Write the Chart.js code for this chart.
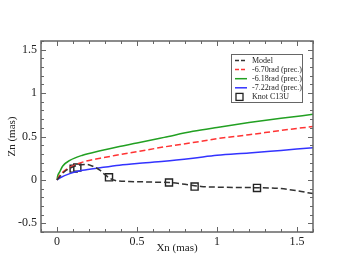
<!DOCTYPE html>
<html>
<head>
<meta charset="utf-8">
<script src="https://cdn.jsdelivr.net/npm/chart.js@4.4.1/dist/chart.umd.min.js"></script>
<style>
html,body{margin:0;padding:0;background:#fff;}
#wrap{width:353px;height:273px;}
</style>
</head>
<body>
<div id="wrap"><canvas id="c" width="353" height="273"></canvas></div>
<script>
// ---- data ----
const modelX = [0, 0.05, 0.1, 0.15, 0.185, 0.22, 0.27, 0.3, 0.33, 0.36, 0.45, 0.6, 0.7, 0.8, 0.9, 1.05, 1.25, 1.4, 1.5, 1.6];
const modelZ = [0, 0.1, 0.15, 0.175, 0.178, 0.16, 0.11, 0.06, 0.02, -0.005, -0.018, -0.025, -0.03, -0.05, -0.075, -0.085, -0.09, -0.1, -0.125, -0.158];

const redX = [0, 0.02, 0.05, 0.08, 0.16, 0.27, 0.39, 0.5, 0.67, 0.85, 1.0, 1.2, 1.4, 1.6];
const redZ = [0, 0.06, 0.11, 0.145, 0.205, 0.25, 0.29, 0.325, 0.38, 0.43, 0.475, 0.52, 0.57, 0.615];

const greenX = [0, 0.005, 0.016, 0.036, 0.08, 0.16, 0.27, 0.39, 0.5, 0.67, 0.85, 1.0, 1.2, 1.4, 1.6];
const greenZ = [0, 0.05, 0.09, 0.16, 0.225, 0.285, 0.335, 0.385, 0.425, 0.49, 0.56, 0.605, 0.66, 0.71, 0.755];

const blueX = [0, 0.02, 0.08, 0.16, 0.27, 0.39, 0.5, 0.67, 0.85, 1.0, 1.2, 1.4, 1.6];
const blueZ = [0, 0.025, 0.072, 0.11, 0.14, 0.17, 0.19, 0.215, 0.25, 0.283, 0.31, 0.34, 0.37];

const knotX = [0.104, 0.127, 0.325, 0.7, 0.86, 1.25];
const knotZ = [0.13, 0.142, 0.03, -0.03, -0.077, -0.092];

const seriesLabels = ['Model', '-6.70rad (prec.)', '-6.18rad (prec.)', '-7.22rad (prec.)', 'Knot C13U'];
const xTickValues = [0, 0.5, 1, 1.5];
const yTickValues = [-0.5, 0, 0.5, 1, 1.5];
const xTickLabels = ['0', '0.5', '1', '1.5'];
const yTickLabels = ['-0.5', '0', '0.5', '1', '1.5'];
const xMinor = [-0.1, 0, 0.1, 0.2, 0.3, 0.4, 0.5, 0.6, 0.7, 0.8, 0.9, 1.0, 1.1, 1.2, 1.3, 1.4, 1.5, 1.6];
const yMinor = [-0.6, -0.5, -0.4, -0.3, -0.2, -0.1, 0, 0.1, 0.2, 0.3, 0.4, 0.5, 0.6, 0.7, 0.8, 0.9, 1.0, 1.1, 1.2, 1.3, 1.4, 1.5, 1.6];

const pts = (xs, ys) => xs.map((x, i) => ({x: x, y: ys[i]}));
const FONT = "'Liberation Serif', 'DejaVu Serif', serif";

const lineDs = (label, xs, ys, color, dash) => ({
  label: label, data: pts(xs, ys), showLine: true, borderColor: color, backgroundColor: color,
  borderWidth: 1.5, borderDash: dash, pointRadius: 0, pointHoverRadius: 0,
  cubicInterpolationMode: 'monotone', fill: false
});

const datasets = [
  lineDs(seriesLabels[0], modelX, modelZ, '#333333', [6, 3]),
  lineDs(seriesLabels[1], redX, redZ, '#ff3333', [6, 3]),
  lineDs(seriesLabels[2], greenX, greenZ, '#22a022', []),
  lineDs(seriesLabels[3], blueX, blueZ, '#3333ff', []),
  {
    label: seriesLabels[4], data: pts(knotX, knotZ), showLine: false,
    pointStyle: 'rect', pointRadius: 5, pointBorderWidth: 1.4,
    pointBorderColor: '#222', pointBackgroundColor: '#fff', borderColor: '#222', backgroundColor: '#fff'
  }
];

const decor = {
  id: 'decor',
  afterDraw(chart) {
    const ctx = chart.ctx, a = chart.chartArea;
    const xs = chart.scales.x, ys = chart.scales.y;
    ctx.save();
    ctx.strokeStyle = '#666';
    ctx.lineWidth = 1;
    ctx.beginPath();
    xMinor.forEach(v => {
      const p = Math.round(xs.getPixelForValue(v)) + 0.5;
      const major = xTickValues.some(m => Math.abs(m - v) < 1e-6);
      const L = major ? 5 : 3;
      ctx.moveTo(p, a.bottom); ctx.lineTo(p, a.bottom - L);
      ctx.moveTo(p, a.top); ctx.lineTo(p, a.top + L);
    });
    yMinor.forEach(v => {
      const p = Math.round(ys.getPixelForValue(v)) + 0.5;
      const major = yTickValues.some(m => Math.abs(m - v) < 1e-6);
      const L = major ? 5 : 3;
      ctx.moveTo(a.left, p); ctx.lineTo(a.left + L, p);
      ctx.moveTo(a.right, p); ctx.lineTo(a.right - L, p);
    });
    ctx.stroke();
    ctx.lineWidth = 1.5;
    ctx.strokeStyle = '#666';
    ctx.strokeRect(a.left, a.top, a.right - a.left, a.bottom - a.top);

    // legend
    const bx = 231, by = 54, bw = 71, bh = 48;
    ctx.fillStyle = '#fff';
    ctx.fillRect(bx, by, bw, bh);
    ctx.lineWidth = 1;
    ctx.strokeStyle = '#666';
    ctx.strokeRect(bx + 0.5, by + 0.5, bw, bh);
    ctx.font = "8px " + FONT;
    ctx.textBaseline = 'middle';
    ctx.fillStyle = '#222';
    chart.data.datasets.forEach((ds, i) => {
      const yy = 60.5 + i * 9.1;
      if (ds.showLine) {
        ctx.save();
        ctx.strokeStyle = ds.borderColor;
        ctx.lineWidth = 1.5;
        ctx.setLineDash(ds.borderDash && ds.borderDash.length ? [4, 2] : []);
        ctx.beginPath();
        ctx.moveTo(235, yy); ctx.lineTo(247, yy);
        ctx.stroke();
        ctx.restore();
      } else {
        ctx.save();
        ctx.strokeStyle = '#222';
        ctx.lineWidth = 1.3;
        ctx.fillStyle = '#fff';
        ctx.fillRect(236, yy - 3.5, 7, 7);
        ctx.strokeRect(236, yy - 3.5, 7, 7);
        ctx.restore();
      }
      ctx.fillStyle = '#222';
      ctx.fillText(ds.label, 252, yy);
    });
    ctx.restore();
  }
};

new Chart(document.getElementById('c'), {
  type: 'scatter',
  data: { datasets: datasets },
  options: {
    responsive: false,
    animation: false,
    events: [],
    layout: { padding: { left: 0, top: 41, right: 40, bottom: 0 } },
    plugins: { legend: { display: false }, tooltip: { enabled: false } },
    scales: {
      x: {
        type: 'linear', min: -0.1, max: 1.6,
        grid: { display: false, drawTicks: false },
        border: { display: false },
        afterFit(s) { s.height = 41; },
        afterBuildTicks(s) { s.ticks = xTickValues.map(v => ({ value: v })); },
        ticks: {
          autoSkip: false, maxRotation: 0, padding: 3, color: '#222',
          font: { family: FONT, size: 12 },
          callback: (v) => { const i = xTickValues.findIndex(m => Math.abs(m - v) < 1e-6); return i >= 0 ? xTickLabels[i] : ''; }
        },
        title: { display: true, text: 'Xn (mas)', color: '#222', font: { family: FONT, size: 11 }, padding: { top: 0, bottom: 18 } }
      },
      y: {
        type: 'linear', min: -0.6, max: 1.6,
        grid: { display: false, drawTicks: false },
        border: { display: false },
        afterFit(s) { s.width = 41; },
        afterBuildTicks(s) { s.ticks = yTickValues.map(v => ({ value: v })); },
        ticks: {
          autoSkip: false, padding: 4, color: '#222',
          font: { family: FONT, size: 12 },
          callback: (v) => { const i = yTickValues.findIndex(m => Math.abs(m - v) < 1e-6); return i >= 0 ? yTickLabels[i] : ''; }
        },
        title: { display: true, text: 'Zn (mas)', color: '#222', font: { family: FONT, size: 11 }, padding: { top: 6, bottom: 0 } }
      }
    }
  },
  plugins: [decor]
});
</script>
</body>
</html>
